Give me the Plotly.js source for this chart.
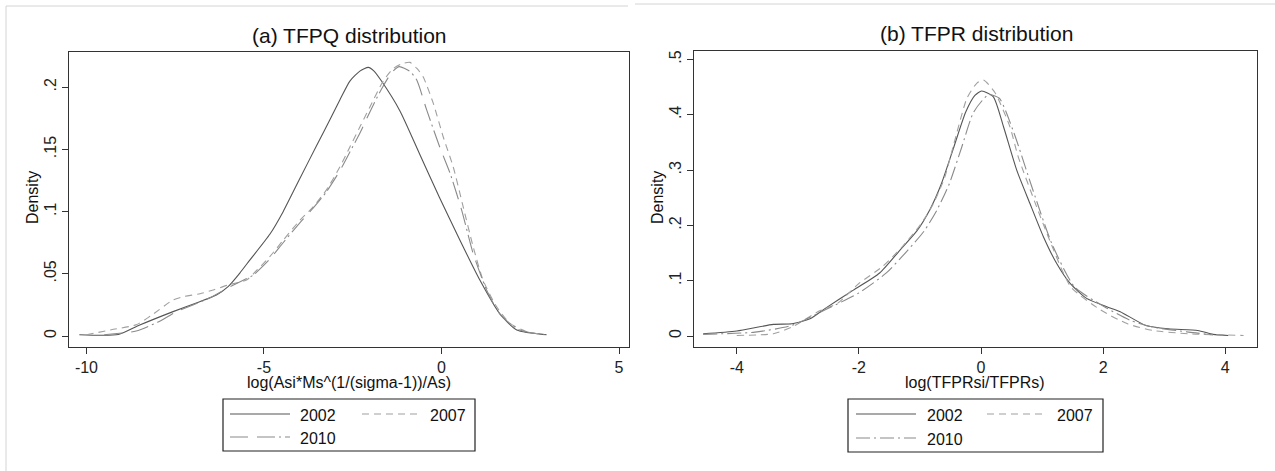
<!DOCTYPE html>
<html>
<head>
<meta charset="utf-8">
<script src="https://cdn.plot.ly/plotly-3.0.1.min.js"></script>
<style>html,body{margin:0;padding:0;background:#fff;}#chart{width:1275px;height:471px;}</style>
</head>
<body>
<div id="chart"></div>
<script>
// ---- Data ----
const seriesNames = ['2002', '2007', '2010'];

// Panel (a) TFPQ distribution
const q02x = [-10.2,-9.1,-8.5,-7.56,-6.81,-6.34,-6.01,-5.68,-5.4,-4.83,-4.46,-4.0,-3.52,-3.14,-2.86,-2.58,-2.3,-2.06,-1.9,-1.69,-1.17,-0.61,-0.05,0.52,1.08,1.64,2.12,2.96];
const q02y = [0.001,0.0012,0.0088,0.0196,0.0276,0.033,0.0397,0.0506,0.061,0.082,0.100,0.126,0.153,0.174,0.19,0.205,0.213,0.216,0.213,0.205,0.181,0.146,0.111,0.077,0.045,0.018,0.0048,0.001];
const q07x = [-10.0,-9.3,-8.6,-8.2,-7.56,-7.28,-6.8,-6.43,-6.01,-5.49,-5.3,-4.83,-4.46,-3.99,-3.61,-3.24,-2.86,-2.58,-2.3,-2.02,-1.64,-1.36,-1.1,-0.89,-0.7,-0.52,-0.23,0.05,0.33,0.61,0.89,1.17,1.55,1.93,2.4,2.9];
const q07y = [0.001,0.005,0.009,0.016,0.029,0.0316,0.034,0.037,0.041,0.045,0.050,0.064,0.077,0.093,0.104,0.1175,0.136,0.152,0.168,0.184,0.205,0.215,0.219,0.220,0.2153,0.2086,0.187,0.160,0.136,0.104,0.072,0.045,0.0236,0.0102,0.0035,0.001];
const q10x = [-9.5,-8.6,-8.0,-7.5,-7.0,-6.5,-6.0,-5.5,-5.3,-4.83,-4.46,-3.99,-3.61,-3.24,-2.86,-2.58,-2.3,-2.02,-1.7,-1.4,-1.19,-0.9,-0.7,-0.42,-0.05,0.24,0.57,0.89,1.27,1.66,2.18,2.8];
const q10y = [0.001,0.004,0.011,0.019,0.025,0.031,0.039,0.046,0.049,0.062,0.075,0.091,0.103,0.116,0.133,0.148,0.163,0.18,0.198,0.212,0.2166,0.213,0.206,0.182,0.152,0.131,0.101,0.0665,0.037,0.017,0.005,0.0013];

// Panel (b) TFPR distribution
const r02x = [-4.55,-4.0,-3.4,-3.1,-2.8,-2.55,-2.09,-1.66,-1.33,-1.05,-0.84,-0.65,-0.45,-0.25,-0.1,0.01,0.2,0.37,0.585,0.8,1.02,1.24,1.46,1.73,2.06,2.28,2.7,3.07,3.55,3.8,4.05];
const r02y = [0.004,0.009,0.021,0.022,0.031,0.05,0.083,0.114,0.155,0.19,0.228,0.275,0.34,0.405,0.435,0.443,0.433,0.378,0.30,0.24,0.18,0.131,0.095,0.068,0.053,0.044,0.019,0.013,0.010,0.003,0.001];
const r07x = [-4.0,-3.4,-3.1,-2.65,-2.35,-2.0,-1.62,-1.3,-1.0,-0.8,-0.6,-0.45,-0.23,-0.07,0.04,0.23,0.475,0.61,0.91,1.1,1.47,1.96,2.4,2.82,3.4,4.3];
const r07y = [0.001,0.004,0.016,0.045,0.059,0.095,0.125,0.16,0.2,0.235,0.285,0.345,0.43,0.457,0.463,0.44,0.378,0.324,0.234,0.18,0.089,0.047,0.022,0.010,0.004,0.001];
const r10x = [-4.55,-3.7,-3.1,-2.5,-2.0,-1.55,-1.2,-0.93,-0.72,-0.52,-0.32,-0.12,0.12,0.3,0.54,0.85,1.16,1.53,2.02,2.45,2.82,3.4,3.8];
const r10y = [0.003,0.007,0.019,0.05,0.078,0.114,0.155,0.19,0.228,0.275,0.34,0.405,0.436,0.43,0.367,0.264,0.167,0.089,0.053,0.028,0.016,0.007,0.002];

// Tick labels
const qxTicks = [-10, -5, 0, 5];
const qyTicks = [0, 0.05, 0.1, 0.15, 0.2];
const qyText = ['0', '.05', '.1', '.15', '.2'];
const rxTicks = [-4, -2, 0, 2, 4];
const ryTicks = [0, 0.1, 0.2, 0.3, 0.4, 0.5];
const ryText = ['0', '.1', '.2', '.3', '.4', '.5'];

// ---- Styles ----
const W = 1275, H = 471;
const FONT = 'Liberation Sans, Arial, sans-serif';
const styles = [
  {color: '#555555', width: 1.1, dashL: 'solid', dashR: 'solid'},
  {color: '#a0a0a0', width: 1.1, dashL: '7px,5px', dashR: '7px,5px'},
  {color: '#8a8a8a', width: 1.1, dashL: '18px,9px,18px,4px,2px,4px', dashR: '14px,4px,2px,4px'}
];
const px = x => x / W;
const py = y => 1 - y / H;

const qData = [[q02x, q02y], [q07x, q07y], [q10x, q10y]];
const rData = [[r02x, r02y], [r07x, r07y], [r10x, r10y]];
const traces = [];
qData.forEach((d, i) => traces.push({
  x: d[0], y: d[1], type: 'scatter', mode: 'lines', name: seriesNames[i],
  xaxis: 'x', yaxis: 'y', hoverinfo: 'skip',
  line: {color: styles[i].color, width: styles[i].width, dash: styles[i].dashL, shape: 'spline', smoothing: 0.6}
}));
rData.forEach((d, i) => traces.push({
  x: d[0], y: d[1], type: 'scatter', mode: 'lines', name: seriesNames[i],
  xaxis: 'x2', yaxis: 'y2', hoverinfo: 'skip',
  line: {color: styles[i].color, width: styles[i].width, dash: styles[i].dashR, shape: 'spline', smoothing: 0.6}
}));

const axisCommon = {
  showline: true, mirror: true, linecolor: '#333', linewidth: 1,
  ticks: 'outside', ticklen: 6, tickcolor: '#333', tickwidth: 1,
  showgrid: false, zeroline: false,
  tickfont: {family: FONT, size: 16, color: '#222'}, fixedrange: true
};

const shapes = [];
const annotations = [];

// faint borders of the two pasted images
shapes.push({type: 'line', xref: 'paper', yref: 'paper', x0: px(6), x1: px(628), y0: py(6), y1: py(6), line: {color: '#d4d4d4', width: 1}});
shapes.push({type: 'line', xref: 'paper', yref: 'paper', x0: px(6), x1: px(6), y0: py(6), y1: py(471), line: {color: '#d4d4d4', width: 1}});
shapes.push({type: 'line', xref: 'paper', yref: 'paper', x0: px(635), x1: px(1275), y0: py(4), y1: py(4), line: {color: '#d4d4d4', width: 1}});

// titles and axis labels
function txt(text, x, y, size, angle) {
  annotations.push({text: text, xref: 'paper', yref: 'paper', x: px(x), y: py(y),
    xanchor: 'center', yanchor: 'middle', showarrow: false, textangle: angle || 0,
    font: {family: FONT, size: size, color: '#111'}});
}
txt('(a) TFPQ distribution', 349, 36, 21);
txt('(b) TFPR distribution', 976, 34, 21);
txt('log(Asi*Ms^(1/(sigma-1))/As)', 349, 382, 16);
txt('log(TFPRsi/TFPRs)', 975, 382, 16);
txt('Density', 32, 198, 16, -90);
txt('Density', 657, 198, 16, -90);

// legends (box, samples, labels)
function legend(box, rows, dashKey) {
  shapes.push({type: 'rect', xref: 'paper', yref: 'paper', x0: px(box[0]), x1: px(box[1]), y0: py(box[3]), y1: py(box[2]),
    line: {color: '#222', width: 1.2}, fillcolor: 'rgba(0,0,0,0)'});
  rows.forEach((r, i) => {
    shapes.push({type: 'line', xref: 'paper', yref: 'paper', x0: px(r.l0), x1: px(r.l1), y0: py(r.y), y1: py(r.y),
      line: {color: styles[i].color, width: styles[i].width, dash: styles[i][dashKey]}});
    annotations.push({text: seriesNames[i], xref: 'paper', yref: 'paper', x: px(r.t), y: py(r.y + 1),
      xanchor: 'left', yanchor: 'middle', showarrow: false, font: {family: FONT, size: 16, color: '#111'}});
  });
}
legend([223, 475, 399, 451], [
  {l0: 230, l1: 290, t: 298, y: 414},
  {l0: 362, l1: 421, t: 428, y: 414},
  {l0: 230, l1: 290, t: 298, y: 437}
], 'dashL');
legend([848, 1103, 399, 452], [
  {l0: 856, l1: 916, t: 925, y: 414},
  {l0: 987, l1: 1047, t: 1055, y: 414},
  {l0: 856, l1: 916, t: 925, y: 438}
], 'dashR');

const layout = {
  width: W, height: H,
  margin: {l: 0, r: 0, t: 0, b: 0, pad: 0},
  paper_bgcolor: '#ffffff', plot_bgcolor: '#ffffff',
  showlegend: false,
  xaxis: Object.assign({}, axisCommon, {domain: [px(69.4), px(628.6)], range: [-10.48, 5.27], tickvals: qxTicks, ticktext: qxTicks.map(String), anchor: 'y'}),
  yaxis: Object.assign({}, axisCommon, {domain: [py(346.7), py(51.7)], range: [-0.0086, 0.2286], tickvals: qyTicks, ticktext: qyText, tickangle: -90, anchor: 'x'}),
  xaxis2: Object.assign({}, axisCommon, {domain: [px(694), px(1257)], range: [-4.70, 4.52], tickvals: rxTicks, ticktext: rxTicks.map(String), anchor: 'y2'}),
  yaxis2: Object.assign({}, axisCommon, {domain: [py(347), py(51)], range: [-0.0199, 0.5154], tickvals: ryTicks, ticktext: ryText, tickangle: -90, anchor: 'x2'}),
  shapes: shapes,
  annotations: annotations
};

Plotly.newPlot('chart', traces, layout, {displayModeBar: false, staticPlot: true});
</script>
</body>
</html>
